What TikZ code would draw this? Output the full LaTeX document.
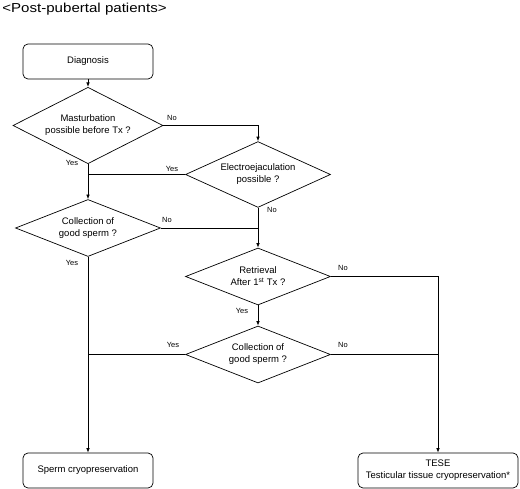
\documentclass[tikz,border=0pt]{standalone}
\usepackage{fontspec}
\setmainfont{Liberation Sans}
\newfontfamily\titlefont[FakeStretch=1.16]{Liberation Sans}
\usepackage{tikz}
\usetikzlibrary{arrows.meta}
\usetikzlibrary{shapes.geometric}
\usetikzlibrary{calc}

\begin{document}
\begin{tikzpicture}[x=1pt,y=-1pt,
  line width=0.7pt,
  arr/.style={-{Latex[length=4.5pt,width=3.5pt]}},
  decision/.style={diamond,draw,inner xsep=-15pt,inner ysep=0pt,
    minimum width=145pt,minimum height=57pt,align=center,
    font=\fontsize{9.5}{12}\selectfont},
  terminal/.style={rectangle,draw,rounded corners=5pt,minimum height=35pt,
    align=center,font=\fontsize{9.5}{12}\selectfont},
  lbl/.style={inner sep=0pt,font=\fontsize{7.5}{9}\selectfont}]
\useasboundingbox (0,0) rectangle (520,489);

\node[anchor=base west,inner sep=0pt,font=\titlefont\fontsize{13}{15}\selectfont] (title) at (2,12.5) {<Post-pubertal patients>};

\node[terminal,minimum width=130pt] (diag) at (88,61.5) {Diagnosis};
\node[decision,minimum width=150pt] (d1) at (88,125.5) {Masturbation\\possible before Tx ?};
\node[decision] (d2) at (258,174.5) {Electroejaculation\\possible ?};
\node[decision] (d3) at (88,228) {Collection of\\good sperm ?};
\node[decision] (d4) at (258,276.5) {Retrieval\\After 1\textsuperscript{st} Tx ?};
\node[decision] (d5) at (258,354.5) {Collection of\\good sperm ?};
\node[terminal,minimum width=130pt] (sperm) at (88,470.5) {Sperm cryopreservation};
\node[terminal,minimum width=160pt] (tese) at (438,470.5) {TESE\\Testicular tissue cryopreservation*};

\draw[arr] (diag.south) -- (d1.north);
\draw[arr] (d1.east) -| (d2.north);
\draw (d2.west) -- (d2.west -| d1.south);
\draw[arr] (d1.south) -- (d3.north);
\draw (d3.east) -- (d3.east -| d2.south);
\draw[arr] (d2.south) -- (d4.north);
\draw[arr] (d4.east) -| (tese.north);
\draw[arr] (d4.south) -- (d5.north);
\draw (d5.west) -- (d5.west -| d3.south);
\draw (d5.east) -- (d5.east -| tese.north);
\draw[arr] (d3.south) -- (sperm.north);

\node[lbl] (no1) at (172,118) {No};
\node[lbl] (yes1) at (72,163) {Yes};
\node[lbl] (yes2) at (172,169) {Yes};
\node[lbl] (no2) at (272,210) {No};
\node[lbl] (no3) at (167,220) {No};
\node[lbl] (yes3) at (72,263) {Yes};
\node[lbl] (no4) at (343,268) {No};
\node[lbl] (yes4) at (242,311) {Yes};
\node[lbl] (yes5) at (173,345) {Yes};
\node[lbl] (no5) at (343,345) {No};

\end{tikzpicture}
\end{document}
